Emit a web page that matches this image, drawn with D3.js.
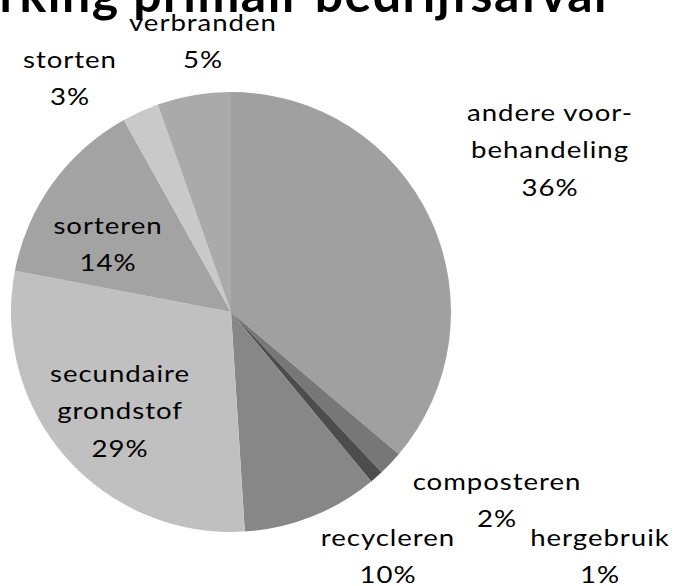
<!DOCTYPE html>
<meta charset="utf-8">
<style type="text/css">
  body { margin: 0; background: #fff; }
  svg { display: block; }
  text { font-family: Lato, "Open Sans", sans-serif; fill: #000; }
  .lbl { font-size: 23px; letter-spacing: 0.8px; }
  .title { font-size: 50px; font-weight: bold; letter-spacing: 1.5px; }
</style>
<body>
<script src="https://d3js.org/d3.v7.min.js"></script>
<script>
// slices, clockwise from 12 o'clock
var categories = ["andere voor-behandeling", "composteren", "hergebruik", "recycleren",
                  "secundaire grondstof", "sorteren", "storten", "verbranden"];
var shares     = [36.2, 1.8, 1.0, 10.0, 29.0, 13.9, 2.7, 5.4];
var labelLines = [["andere voor-", "behandeling"], ["composteren"], ["hergebruik"], ["recycleren"],
                  ["secundaire", "grondstof"], ["sorteren"], ["storten"], ["verbranden"]];
var greys      = ["#a0a0a0", "#777777", "#4d4d4d", "#878787",
                  "#c0c0c0", "#a3a3a3", "#c9c9c9", "#aaaaaa"];

var width = 676, height = 586;
var cx = 231, cy = 312, radius = 220;
var stretch = 1.2; // labels in the original are drawn wide

// where the label blocks sit (centre x, baseline of first line)
var labelAt = {
  "andere voor-behandeling": [550, 121],
  "composteren": [497, 490],
  "hergebruik": [600, 546],
  "recycleren": [388, 546],
  "secundaire grondstof": [120, 382],
  "sorteren": [108, 234],
  "storten": [70, 68],
  "verbranden": [203, 31]
};
var lineStep = 37.5;

var data = categories.map(function(c, i){
  return {name: c, value: shares[i], lines: labelLines[i], color: greys[i]};
});

var svg = d3.select("body").append("svg")
  .attr("width", width)
  .attr("height", height);

// title, cut off at the top of the picture
svg.append("text")
  .attr("class", "title")
  .attr("x", 608)
  .attr("y", 12)
  .attr("text-anchor", "end")
  .text("Verwerking primair bedrijfsafval");

var pie = d3.pie()
  .sort(null)
  .value(function(d){ return d.value; });

var arc = d3.arc()
  .innerRadius(0)
  .outerRadius(radius);

var chart = svg.append("g")
  .attr("transform", "translate(" + cx + "," + cy + ")");

chart.selectAll("path")
  .data(pie(data))
  .enter()
  .append("path")
    .attr("d", arc)
    .attr("fill", function(d){ return d.data.color; });

var fmt = d3.format(".0f");

var labels = svg.selectAll("text.lbl")
  .data(data)
  .enter()
  .append("text")
    .attr("class", "lbl")
    .attr("text-anchor", "middle")
    .attr("transform", "scale(" + stretch + ",1)");

labels.each(function(d){
  var t = d3.select(this),
      pos = labelAt[d.name],
      rows = d.lines.concat([fmt(d.value) + "%"]);
  rows.forEach(function(r, k){
    t.append("tspan")
      .attr("x", pos[0] / stretch)
      .attr("y", pos[1] + k * lineStep)
      .text(r);
  });
});
</script>
